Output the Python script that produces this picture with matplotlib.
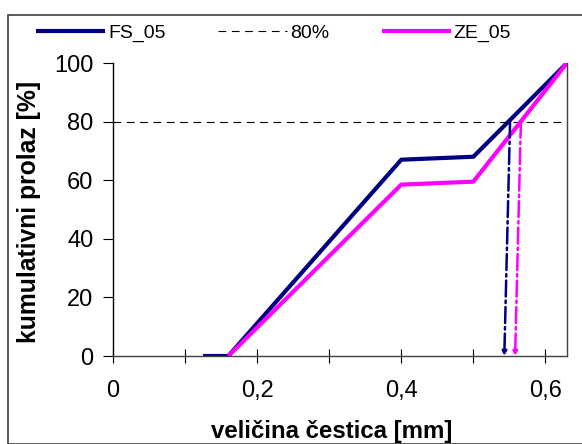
import matplotlib
matplotlib.use("Agg")
import matplotlib.pyplot as plt
from matplotlib.patches import Rectangle

plt.rcParams["font.family"] = ["Liberation Sans", "DejaVu Sans"]

# Data
fs_x = [0.125, 0.16, 0.4, 0.5, 0.63]
fs_y = [0, 0, 67, 68, 100]
ze_x = [0.16, 0.4, 0.5, 0.63]
ze_y = [0, 58.5, 59.5, 100]
level = 80
d80_fs = (0.551, 0.543)
d80_ze = (0.566, 0.558)

navy = "#000080"
pink = "#ff00ff"

fig = plt.figure(figsize=(5.82, 4.44), dpi=100)
ax = fig.add_axes([113 / 582, 1 - 356 / 444, (567 - 113) / 582, (356 - 63) / 444])

# outer frame
fig.patches.append(Rectangle((8 / 582, 0), 1, 1 - 15 / 444, transform=fig.transFigure,
                             fill=False, edgecolor="#404040", linewidth=1.2))

l_fs, = ax.plot(fs_x, fs_y, color=navy, linewidth=3, label="FS_05", solid_capstyle="butt")
l_80 = ax.axhline(level, color="black", linewidth=0.8, dashes=(7, 5), label="80%")
l_ze, = ax.plot(ze_x, ze_y, color=pink, linewidth=3, label="ZE_05", solid_capstyle="butt")

for (xt, xb), c in [(d80_fs, navy), (d80_ze, pink)]:
    ax.annotate("", xy=(xb, 0), xytext=(xt, level),
                arrowprops=dict(arrowstyle="-|>", color=c, linestyle="-.",
                                linewidth=1.8, mutation_scale=6, shrinkA=0, shrinkB=0))

ax.set_xlim(0, 0.63)
ax.set_ylim(0, 100)
ax.set_xticks([0, 0.1, 0.2, 0.3, 0.4, 0.5, 0.6])
ax.set_xticklabels(["0", "", "0,2", "", "0,4", "", "0,6"])
ax.set_yticks([0, 20, 40, 60, 80, 100])
ax.tick_params(axis="x", direction="inout", length=10, labelsize=17, pad=12)
ax.tick_params(axis="y", direction="out", length=7, labelsize=17, pad=7)
ax.spines["top"].set_visible(False)
for s in ax.spines.values():
    s.set_linewidth(1.0)
ax.spines["bottom"].set_color("#404040")
ax.spines["right"].set_color("#404040")

ax.set_xlabel("veličina čestica [mm]", fontsize=17.3, fontweight="bold")
ax.xaxis.set_label_coords((332 - 113) / 454, -64 / 293)
ax.set_ylabel("kumulativni prolaz [%]", fontsize=17.8, fontweight="bold")
ax.yaxis.set_label_coords(-72 / 454, 0.49)

fig.legend(handles=[l_fs, l_80, l_ze], loc="center", bbox_to_anchor=(0.47, 1 - 33 / 444),
           ncol=3, frameon=False, fontsize=14, handlelength=3.55, columnspacing=2.7,
           handletextpad=0.15)

fig.savefig("out.png", dpi=100)
